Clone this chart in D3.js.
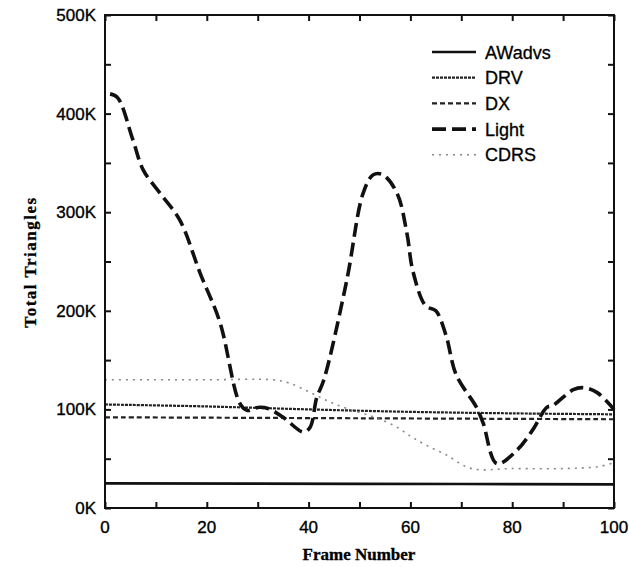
<!DOCTYPE html>
<html>
<head>
<meta charset="utf-8">
<script src="https://cdn.jsdelivr.net/npm/d3@7"></script>
<style>
  body { margin: 0; background: #fff; }
  svg { display: block; }
  .tick-label { font-family: "Liberation Sans", Arial, sans-serif; font-size: 17px; fill: #000; stroke: #000; stroke-width: 0.35px; }
  .axis-title { font-family: "Liberation Serif", "Times New Roman", serif; font-weight: bold; font-size: 17px; fill: #000; stroke: #000; stroke-width: 0.3px; }
  .legend text { font-family: "Liberation Sans", Arial, sans-serif; font-size: 18px; fill: #000; stroke: #000; stroke-width: 0.3px; }
</style>
</head>
<body>
<svg id="chart" width="629" height="567"></svg>
<script>
// Data (values in thousands of triangles)
const seriesNames = ['AWadvs', 'DRV', 'DX', 'Light', 'CDRS'];

const awadvsFrames = [0, 50, 100];
const awadvsValues = [25, 24.5, 24];

const drvFrames = [0, 20, 40, 60, 80, 100];
const drvValues = [105, 103, 100, 97.5, 96, 95];

const dxFrames = [0, 50, 100];
const dxValues = [92, 91, 90];

const lightFrames = [1, 2.5, 5.5, 7.5, 11, 14.7, 18.7, 22.6, 26.5, 28, 30, 32, 35, 39, 40.3, 41.6, 43, 47.5, 50.7, 52.7, 54.6, 57.4, 59.3, 60.5, 63, 65, 67, 69, 73, 74.3, 77, 81, 84, 86.8, 88, 92, 94, 96.7, 100];
const lightValues = [420, 416, 373, 343, 318, 292, 238, 188, 106, 99, 102, 101, 92, 77, 82, 112, 130, 231, 319, 338, 338, 319, 279, 240, 205, 200, 175, 135, 102, 86, 45, 59, 79, 102, 104, 120, 122, 117, 100];

const cdrsFrames = [0, 10, 20, 33, 36, 40, 44, 48, 53, 57, 60, 63, 67, 72, 80, 90, 97, 100];
const cdrsValues = [130, 130, 130, 130, 127, 118, 108, 100, 92, 83, 73, 64, 54, 40, 40, 40, 42, 46];

const xTicks = [0, 20, 40, 60, 80, 100];
const yTicks = [0, 100, 200, 300, 400, 500];

// Layout
const margin = { top: 15, right: 15, bottom: 59, left: 105 };
const width = 629, height = 567;

const svg = d3.select('#chart');

const x = d3.scaleLinear().domain([0, 100]).range([margin.left, width - margin.right]);
const y = d3.scaleLinear().domain([0, 500]).range([height - margin.bottom, margin.top]);

// Line styles
const styles = {
  AWadvs: { width: 2.6, dash: null, color: '#111' },
  DRV: { width: 2.2, dash: '3,1', color: '#222' },
  DX: { width: 2.2, dash: '5,3', color: '#222' },
  Light: { width: 3.6, dash: '14,6', color: '#111' },
  CDRS: { width: 1.6, dash: '2,5', color: '#888' }
};

const seriesData = {
  AWadvs: awadvsFrames.map((f, i) => [f, awadvsValues[i]]),
  DRV: drvFrames.map((f, i) => [f, drvValues[i]]),
  DX: dxFrames.map((f, i) => [f, dxValues[i]]),
  Light: lightFrames.map((f, i) => [f, lightValues[i]]),
  CDRS: cdrsFrames.map((f, i) => [f, cdrsValues[i]])
};

const line = d3.line()
  .x(d => x(d[0]))
  .y(d => y(d[1]))
  .curve(d3.curveCatmullRom.alpha(0.5));

// Series lines
seriesNames.forEach(name => {
  const s = styles[name];
  svg.append('path')
    .datum(seriesData[name])
    .attr('d', line)
    .attr('fill', 'none')
    .attr('stroke', s.color)
    .attr('stroke-width', s.width)
    .attr('stroke-dasharray', s.dash);
});

// Frame
svg.append('rect')
  .attr('x', x(0)).attr('y', y(500))
  .attr('width', x(100) - x(0)).attr('height', y(0) - y(500))
  .attr('fill', 'none').attr('stroke', '#111').attr('stroke-width', 2);

// Ticks drawn inward on all four sides
const xMinor = d3.range(0, 101, 10);
const yMinor = d3.range(0, 501, 50);

svg.append('g')
  .attr('transform', `translate(0,${y(0)})`)
  .call(d3.axisBottom(x).tickValues(xMinor).tickSize(-6).tickFormat(''))
  .call(g => g.select('.domain').remove());
svg.append('g')
  .attr('transform', `translate(0,${y(500)})`)
  .call(d3.axisTop(x).tickValues(xMinor).tickSize(-6).tickFormat(''))
  .call(g => g.select('.domain').remove());
svg.append('g')
  .attr('transform', `translate(${x(0)},0)`)
  .call(d3.axisLeft(y).tickValues(yMinor).tickSize(-6).tickFormat(''))
  .call(g => g.select('.domain').remove());
svg.append('g')
  .attr('transform', `translate(${x(100)},0)`)
  .call(d3.axisRight(y).tickValues(yMinor).tickSize(-6).tickFormat(''))
  .call(g => g.select('.domain').remove());

svg.selectAll('.tick line').attr('stroke', '#111').attr('stroke-width', 2);

// Tick labels
svg.append('g').selectAll('text')
  .data(xTicks)
  .join('text')
  .attr('class', 'tick-label')
  .attr('x', d => x(d))
  .attr('y', y(0) + 25)
  .attr('text-anchor', 'middle')
  .text(d => d);

svg.append('g').selectAll('text')
  .data(yTicks)
  .join('text')
  .attr('class', 'tick-label')
  .attr('x', x(0) - 9)
  .attr('y', d => y(d) + 6)
  .attr('text-anchor', 'end')
  .text(d => d + 'K');

// Axis titles
svg.append('text')
  .attr('class', 'axis-title')
  .attr('x', 359)
  .attr('y', 560)
  .attr('text-anchor', 'middle')
  .text('Frame Number');

svg.append('text')
  .attr('class', 'axis-title')
  .attr('transform', 'translate(36,262) rotate(-90)')
  .attr('text-anchor', 'middle')
  .style('letter-spacing', '1.5px')
  .text('Total Triangles');

// Legend
const legend = svg.append('g').attr('class', 'legend');
seriesNames.forEach((name, i) => {
  const s = styles[name];
  const ly = 52 + i * 25.7;
  legend.append('line')
    .attr('x1', 432).attr('x2', 476)
    .attr('y1', ly).attr('y2', ly)
    .attr('stroke', s.color)
    .attr('stroke-width', s.width)
    .attr('stroke-dasharray', s.dash);
  legend.append('text')
    .attr('x', 485)
    .attr('y', ly + 6.5)
    .text(name);
});
</script>
</body>
</html>
